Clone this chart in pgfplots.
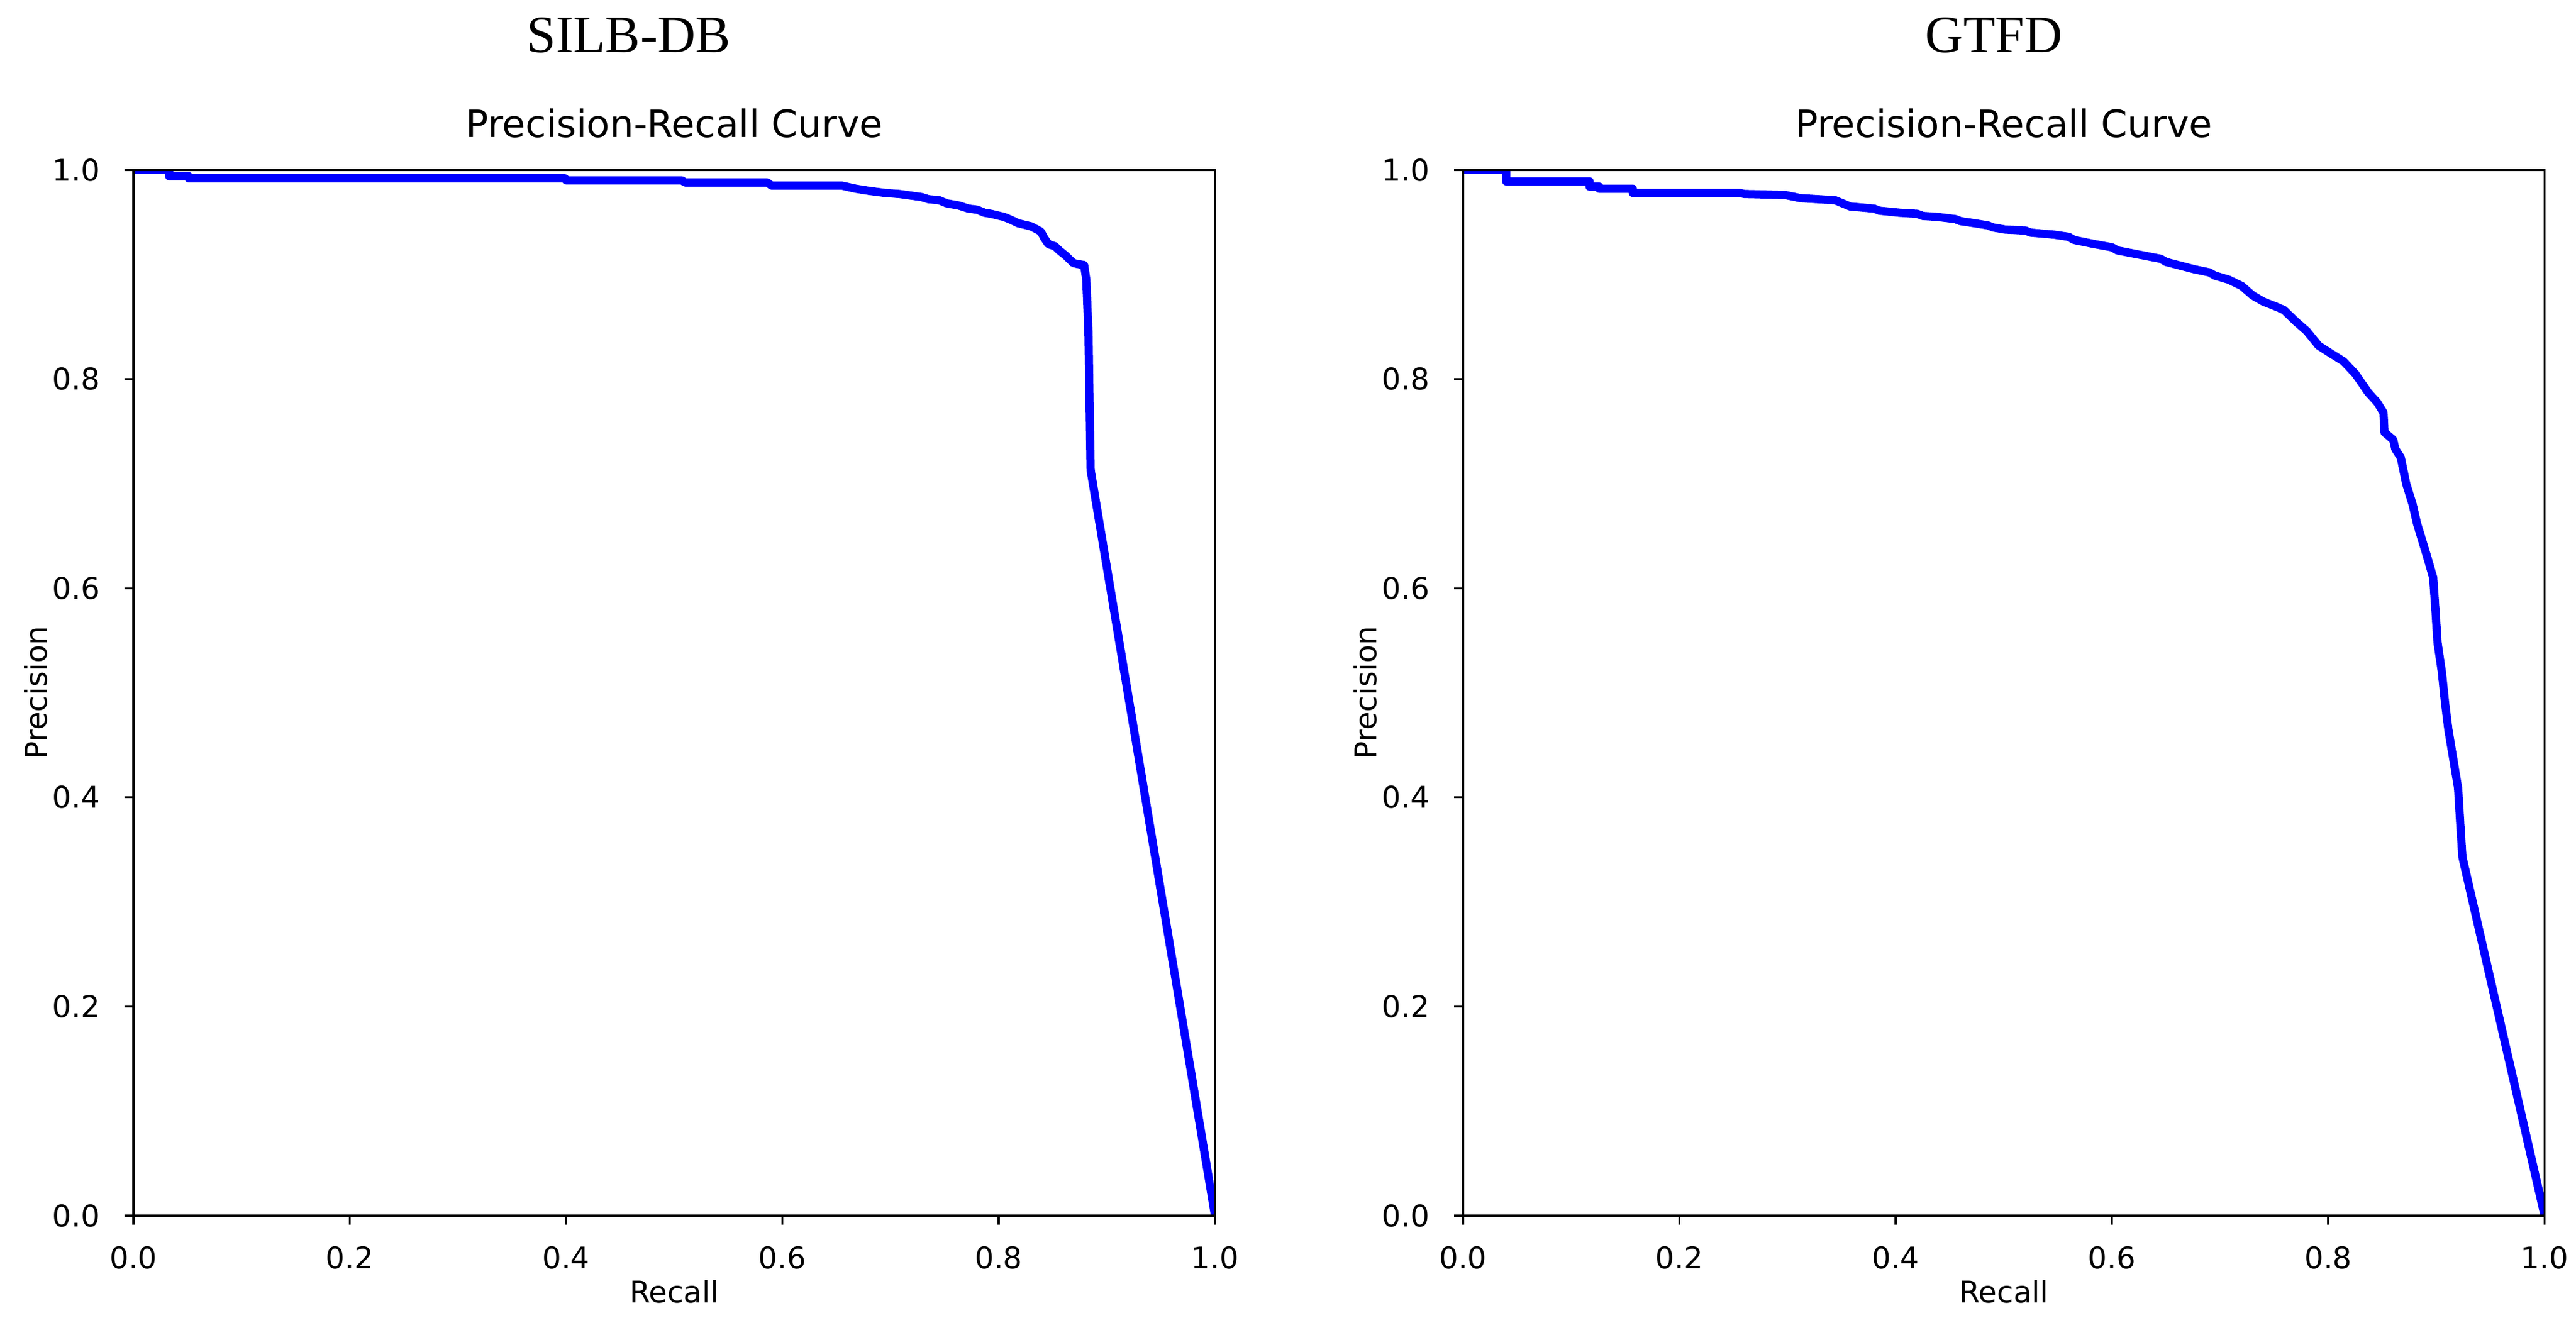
\documentclass[border=0pt]{standalone}
\usepackage{fontspec}
\setmainfont{DejaVu Sans}
\newfontfamily\timesf{Liberation Serif}
\usepackage{pgfplots}
\pgfplotsset{compat=1.18}
\definecolor{prblue}{RGB}{0,0,255}
\pgfplotsset{
  prstyle/.style={
    scale only axis,
    width=433.8pt, height=419.52pt,
    xmin=0, xmax=1, ymin=0, ymax=1,
    xtick={0,0.2,0.4,0.6,0.8,1.0},
    ytick={0,0.2,0.4,0.6,0.8,1.0},
    xtick pos=bottom, ytick pos=left,
    /pgf/number format/assume math mode=true,
    /pgf/number format/.cd, fixed, fixed zerofill, precision=1, /pgfplots/.cd,
    tick align=outside,
    major tick length=3.6pt,
    tick style={line width=0.8pt, black},
    axis line style={line width=0.8pt, black},
    every tick label/.append style={font=\fontsize{12}{14}\selectfont},
    xticklabel style={anchor=north, inner sep=0pt, yshift=-8.64pt},
    yticklabel style={anchor=east, inner sep=0pt, xshift=-9.6pt},
    title style={at={(axis description cs:0.5,1.0166)}, anchor=base, font=\fontsize{15.1}{18}\selectfont, inner sep=0pt},
    xlabel style={at={(axis description cs:0.5,-0.0835)}, anchor=base, font=\fontsize{12}{14}\selectfont, inner sep=0pt},
    ylabel style={at={(axis description cs:-0.0802,0.5)}, anchor=base, rotate=0, font=\fontsize{12}{14}\selectfont, inner sep=0pt},
    title={Precision-Recall Curve},
    xlabel={Recall},
    ylabel={Precision},
    axis on top,
  }
}
\begin{document}
\begin{tikzpicture}
\path[use as bounding box] (0,0) rectangle (1033.2pt,-528.72pt);
\node[anchor=base, inner sep=0pt, font=\timesf\fontsize{21}{25}\selectfont] at (252.2pt,-21.1pt) {SILB-DB};
\node[anchor=base, inner sep=0pt, font=\timesf\fontsize{21}{25}\selectfont] at (799.7pt,-21.1pt) {GTFD};
\begin{axis}[prstyle, at={(53.52pt,-487.68pt)}, anchor=south west]
\addplot[prblue, line width=3.3pt, line join=round] coordinates {
(0,1.0) (0.033,1.0) (0.033,0.994) (0.051,0.994) (0.051,0.992) (0.399,0.992) (0.40,0.990) (0.507,0.990)
(0.51,0.988) (0.586,0.988) (0.59,0.985) (0.655,0.985) (0.668,0.982) (0.68,0.980) (0.695,0.978) (0.708,0.977)
(0.715,0.976) (0.729,0.974) (0.735,0.972) (0.745,0.971) (0.752,0.968) (0.763,0.966) (0.772,0.963) (0.78,0.962)
(0.787,0.959) (0.793,0.958) (0.805,0.955) (0.812,0.952) (0.818,0.949) (0.83,0.946) (0.839,0.941) (0.842,0.935)
(0.846,0.929) (0.852,0.927) (0.856,0.923) (0.862,0.918) (0.869,0.911) (0.873,0.910) (0.879,0.909) (0.881,0.895)
(0.883,0.844) (0.885,0.713) (1.0,0.0)
};
\end{axis}
\begin{axis}[prstyle, at={(586.8pt,-487.68pt)}, anchor=south west]
\addplot[prblue, line width=3.3pt, line join=round] coordinates {
(0,1) (0.040,1) (0.040,0.989) (0.117,0.989) (0.117,0.984) (0.126,0.984) (0.126,0.982) (0.157,0.982)
(0.157,0.978) (0.256,0.978) (0.26,0.977) (0.298,0.976) (0.312,0.973) (0.344,0.971) (0.358,0.965) (0.38,0.963)
(0.385,0.961) (0.404,0.959) (0.42,0.958) (0.425,0.956) (0.439,0.955) (0.455,0.953) (0.46,0.951) (0.473,0.949)
(0.485,0.947) (0.49,0.945) (0.501,0.943) (0.52,0.942) (0.525,0.940) (0.547,0.938) (0.56,0.936) (0.565,0.933)
(0.584,0.929) (0.60,0.926) (0.605,0.923) (0.630,0.918) (0.645,0.915) (0.65,0.912) (0.676,0.905) (0.69,0.902)
(0.695,0.899) (0.708,0.895) (0.72,0.889) (0.730,0.880) (0.740,0.874) (0.750,0.870) (0.759,0.866) (0.770,0.855)
(0.780,0.846) (0.791,0.832) (0.800,0.826) (0.814,0.817) (0.825,0.805) (0.837,0.787) (0.845,0.778) (0.851,0.768)
(0.852,0.749) (0.860,0.742) (0.862,0.733) (0.867,0.725) (0.872,0.700) (0.878,0.680) (0.882,0.662) (0.887,0.645)
(0.892,0.628) (0.897,0.610) (0.899,0.580) (0.901,0.548) (0.905,0.520) (0.908,0.490) (0.911,0.465) (0.915,0.440)
(0.920,0.409) (0.922,0.375) (0.924,0.343) (1.0,0.0)
};
\end{axis}
\end{tikzpicture}
\end{document}
